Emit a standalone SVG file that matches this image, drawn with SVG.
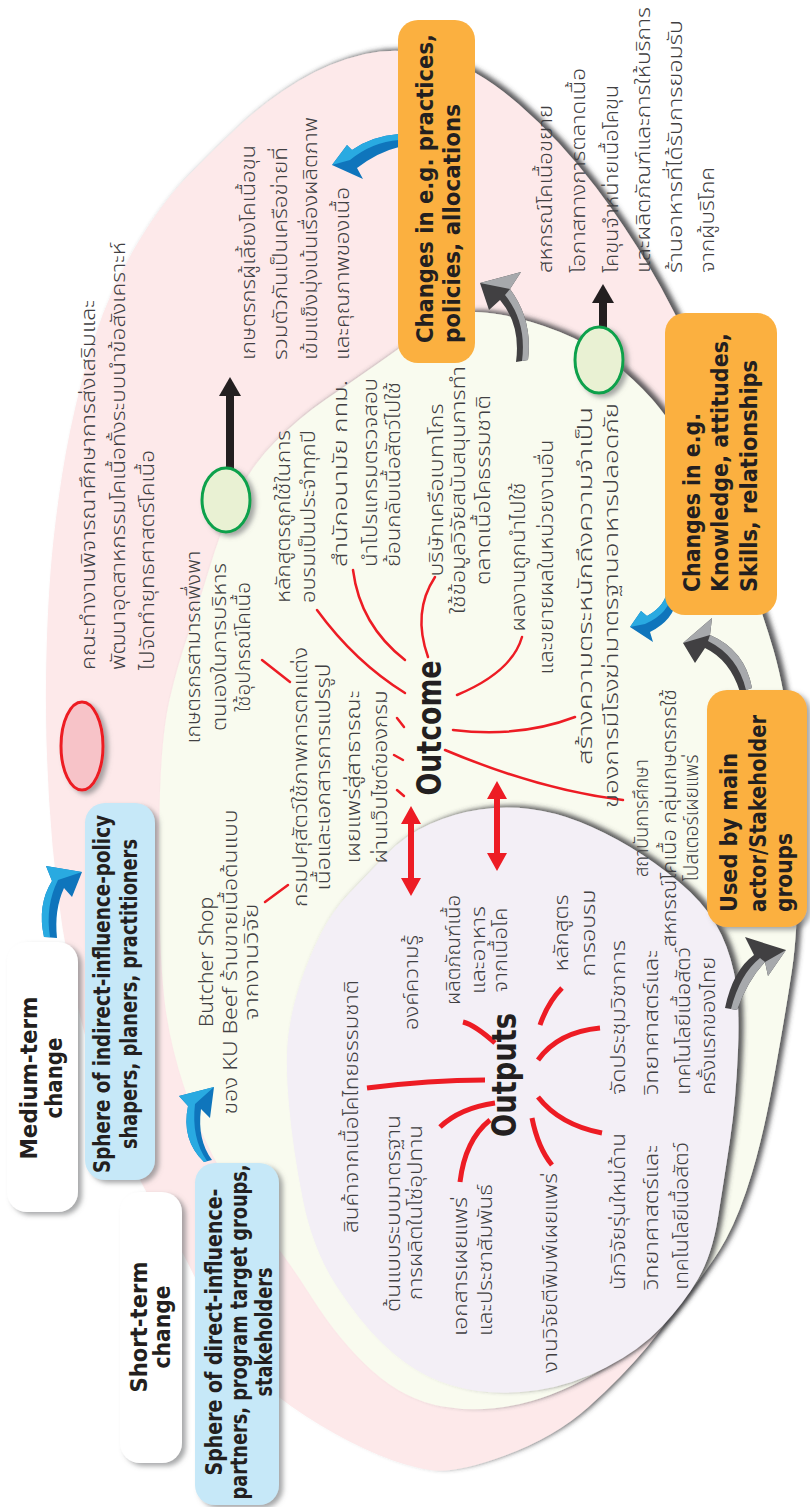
<svg xmlns="http://www.w3.org/2000/svg" width="810" height="1507" viewBox="0 0 810 1507">
<defs>
<filter id="sh" x="-10%" y="-10%" width="125%" height="120%"><feDropShadow dx="5" dy="-2" stdDeviation="2.5" flood-color="#414042" flood-opacity="0.85"/></filter>
<filter id="bs" x="-20%" y="-10%" width="150%" height="130%"><feDropShadow dx="4" dy="3" stdDeviation="2.5" flood-color="#6d6e71" flood-opacity="0.6"/></filter>
</defs>
<style>
.th{font-family:'Noto Sans Thai','Noto Sans','DejaVu Sans',sans-serif;font-size:20px;fill:#414042;font-weight:300}
.en{font-family:'DejaVu Sans Condensed','DejaVu Sans',sans-serif;font-weight:bold;font-size:23px;fill:#231f20}
.big{font-family:'DejaVu Sans Condensed','DejaVu Sans',sans-serif;font-weight:bold;font-size:34px;fill:#231f20}
.rl{fill:none;stroke:#ed1c24;stroke-width:2.5;stroke-linecap:round}
.rb{fill:none;stroke:#ed1c24;stroke-width:5;stroke-linecap:butt}
.ob{fill:#fbb040}
.wb{fill:#ffffff}
.bb{fill:#c6e8f8}
.ge{fill:#e9f1d3;stroke:#0aa14b;stroke-width:3}
</style>

<g id="spheres">
<path id="pink" filter="url(#sh)" fill="#fde9ea" d="M 365,54 Q 400,46 438.5,57 Q 477,68 518.5,104 Q 560,140 596,187.5 Q 632,235 661,287.5 Q 690,340 715,405 Q 740,470 747.5,545 Q 755,620 761.5,700 Q 768,780 768,865 Q 768,950 760,1030 Q 752,1110 732,1177.5 Q 712,1245 692,1281 Q 672,1317 647,1347 Q 622,1377 588.5,1407 Q 555,1437 505,1455.5 Q 455,1474 430,1470 Q 405,1466 377.5,1454.5 Q 350,1443 320,1425 Q 290,1407 261.5,1383.5 Q 233,1360 208,1305 Q 183,1250 163,1220 Q 143,1190 119,1135 Q 95,1080 77.5,1005 Q 60,930 52.5,845 Q 45,760 46,680 Q 47,600 53.5,540 Q 60,480 70,431.5 Q 80,383 95,336.5 Q 110,290 135,247.5 Q 160,205 186.5,177.5 Q 213,150 240,125 Q 267,100 298.5,81 Q 330,62 365,54 Z"/>
<path id="cream" filter="url(#sh)" fill="#f9fbef" d="M 452.5,315.5 Q 470,309 500,314.5 Q 530,320 560,332 Q 590,344 612.5,362 Q 635,380 651.5,398.5 Q 668,417 694,458.5 Q 720,500 741,555 Q 762,610 773.5,650 Q 785,690 791,745 Q 797,800 797.5,865 Q 798,930 792,970 Q 786,1010 775,1071.5 Q 764,1133 752,1173 Q 740,1213 726,1239 Q 712,1265 681,1302.5 Q 650,1340 605,1367.5 Q 560,1395 520,1404 Q 480,1413 442.5,1406.5 Q 405,1400 372.5,1371 Q 340,1342 311.5,1297 Q 283,1252 256.5,1221 Q 230,1190 212.5,1155 Q 195,1120 183.5,1085 Q 172,1050 166.5,1015 Q 161,980 159.5,915 Q 158,850 160,791.5 Q 162,733 169.5,700 Q 177,667 188.5,633.5 Q 200,600 210,566.5 Q 220,533 235,500 Q 250,467 275,442 Q 300,417 325,400 Q 350,383 375,365.5 Q 400,348 417.5,335 Q 435,322 452.5,315.5 Z"/>
<path id="lavender" filter="url(#sh)" fill="#f3eff6" d="M 386,855 Q 405,835 430,824 Q 455,813 480,809.5 Q 505,806 530,809 Q 555,812 580,822 Q 605,832 630,847 Q 655,862 679,882 Q 703,902 715.5,923.5 Q 728,945 734,972.5 Q 740,1000 738,1050 Q 736,1100 730,1140 Q 724,1180 718,1217.5 Q 712,1255 698,1279 Q 684,1303 662,1326.5 Q 640,1350 606,1367.5 Q 572,1385 538.5,1390 Q 505,1395 477.5,1391 Q 450,1387 427.5,1376 Q 405,1365 382.5,1343.5 Q 360,1322 336.5,1286 Q 313,1250 303,1200 Q 293,1150 289,1105 Q 285,1060 288.5,1034 Q 292,1008 300.5,982.5 Q 309,957 321,933.5 Q 333,910 350,892.5 Q 367,875 386,855 Z"/>
</g>

<g id="connectors">
<path class="rl" d="M317,610 Q355,662 405,693"/>
<path class="rl" d="M353,570 Q360,625 405,660"/>
<path class="rl" d="M435,577 Q412,612 428,657"/>
<path class="rl" d="M522,637 Q512,672 457,695"/>
<path class="rl" d="M575,717 Q520,738 453,730"/>
<path class="rl" d="M623,800 Q540,790 445,750"/>
<path class="rl" d="M262,660 L290,682"/>
<path class="rl" d="M265,902 L288,885"/>
<path class="rl" d="M397,718 L404,727"/>
<path class="rl" d="M394,755 L403,760"/>
<path class="rl" d="M397,790 L404,796"/>
<path class="rb" d="M367,1088 Q430,1080 485,1080"/>
<path class="rb" d="M495,1103 Q460,1108 440,1127"/>
<path class="rb" d="M490,1120 Q465,1140 460,1182"/>
<path class="rb" d="M532,1118 Q538,1148 552,1165"/>
<path class="rb" d="M538,1097 Q560,1125 602,1133"/>
<path class="rb" d="M538,1060 Q558,1032 600,1028"/>
<path class="rb" d="M540,1025 Q548,1002 562,988"/>
<path class="rb" d="M495,1043 Q475,1025 463,1022"/>
<g fill="#ed1c24">
<rect x="408" y="820" width="6" height="62"/>
<path d="M401,824 L411,806 L421,824 Z M401,878 L411,896 L421,878 Z"/>
<rect x="494" y="795" width="6" height="62"/>
<path d="M487,799 L497,781 L507,799 Z M487,853 L497,871 L507,853 Z"/>
</g>
<g fill="#231f20">
<rect x="226" y="392" width="8" height="78"/>
<path d="M219,396 L230,377 L241,396 Z"/>
<rect x="599" y="299" width="8" height="30"/>
<path d="M592,303 L603,284 L614,303 Z"/>
</g>
<g id="blue-arrows">
<path fill="#0f75bc" d="M399,134 Q372,136 352,150 L347,145 L332,165 L363,179 L357,168 Q378,152 399,147 Z"/>
<path fill="#29aae1" d="M399,134 Q372,136 352,150 L347,145 L332,165 L350,160 Q372,142 399,140 Z"/>
<path fill="#0f75bc" d="M668,587 Q666,606 647,616 L641,611 L630,627 L653,642 L650,632 Q674,620 677,598 Z"/>
<path fill="#29aae1" d="M668,587 Q666,606 647,616 L641,611 L630,627 L645,624 Q670,613 672,592 Z"/>
<path fill="#0f75bc" d="M204,1162 Q181,1140 188,1106 L179,1096 L214,1087 L210,1118 L201,1109 Q197,1140 212,1160 Z"/>
<path fill="#29aae1" d="M204,1162 Q181,1140 188,1106 L179,1096 L214,1087 L195,1104 Q191,1138 207,1161 Z"/>
<path fill="#0f75bc" d="M44,937 Q37,905 52,881 L46,866 L82,872 L72,897 L64,888 Q54,910 57,938 Z"/>
<path fill="#29aae1" d="M44,937 Q37,905 52,881 L46,866 L82,872 L58,880 Q45,906 50,937 Z"/>
</g>
<g id="grey-arrows">
<path fill="#414042" d="M516,362 Q521,325 500,300 L489,310 L480,283 L521,272 L510,289 Q533,320 528,360 Z"/>
<path fill="#a7a9ac" d="M522,361 Q527,322 505,295 L510,289 Q533,320 528,360 Z M480,283 L521,272 L510,289 Z"/>
<path fill="#414042" d="M740,692 Q730,660 705,648 L695,663 L683,643 L712,618 L710,635 Q745,650 752,688 Z"/>
<path fill="#a7a9ac" d="M746,690 Q738,656 708,641 L710,635 Q745,650 752,688 Z M683,643 L712,618 L710,635 Z"/>
<path fill="#414042" d="M725,1008 Q733,970 754,955 L745,937 L786,950 L768,976 L765,962 Q748,980 737,1010 Z"/>
<path fill="#a7a9ac" d="M731,1009 Q740,974 760,958 L765,962 Q748,980 737,1010 Z M786,950 L768,976 L765,962 Z"/>
</g>
</g>

<g id="markers">
<ellipse cx="82" cy="746" rx="21" ry="44" fill="#f7c3c8" stroke="#ed1c24" stroke-width="3" filter="url(#bs)"/>
<ellipse class="ge" cx="226" cy="500" rx="24" ry="32" filter="url(#bs)"/>
<ellipse class="ge" cx="599" cy="360" rx="24" ry="33" filter="url(#bs)"/>
</g>

<g id="node-practices">
<rect class="ob" x="398" y="20" width="77" height="343" rx="20"/>
<g transform="translate(0,343) rotate(-90)"><text class="en" x="0" y="433" textLength="309" lengthAdjust="spacingAndGlyphs">Changes in e.g. practices,</text><text class="en" x="0" y="460" textLength="239" lengthAdjust="spacingAndGlyphs">policies, allocations</text></g>
</g>
<g id="node-knowledge">
<rect class="ob" x="665" y="313" width="112" height="302" rx="20"/>
<g transform="translate(0,592) rotate(-90)"><text class="en" x="0" y="700" textLength="179" lengthAdjust="spacingAndGlyphs">Changes in e.g.</text><text class="en" x="0" y="728" textLength="259" lengthAdjust="spacingAndGlyphs">Knowledge, attitudes,</text><text class="en" x="0" y="757" textLength="232" lengthAdjust="spacingAndGlyphs">Skills, relationships</text></g>
</g>
<g id="node-used">
<rect class="ob" x="707" y="690" width="100" height="237" rx="20" filter="url(#bs)"/>
<g transform="translate(0,912) rotate(-90)"><text class="en" x="0" y="737" textLength="159" lengthAdjust="spacingAndGlyphs">Used by main</text><text class="en" x="0" y="766" textLength="197" lengthAdjust="spacingAndGlyphs">actor/Stakeholder</text><text class="en" x="0" y="792" textLength="79" lengthAdjust="spacingAndGlyphs">groups</text></g>
</g>
<g id="node-short">
<rect class="wb" x="120" y="1192" width="62" height="271" rx="20" filter="url(#bs)"/>
<g transform="translate(0,1327) rotate(-90)" text-anchor="middle"><text class="en" x="0" y="147" textLength="131" lengthAdjust="spacingAndGlyphs">Short-term</text><text class="en" x="0" y="170" textLength="83" lengthAdjust="spacingAndGlyphs">change</text></g>
</g>
<g id="node-direct">
<rect class="bb" x="195" y="1163" width="84" height="342" rx="20" filter="url(#bs)"/>
<g transform="translate(0,1332) rotate(-90)" text-anchor="middle"><text class="en" x="0" y="222" textLength="287" lengthAdjust="spacingAndGlyphs">Sphere of direct-influence-</text><text class="en" x="0" y="247" textLength="335" lengthAdjust="spacingAndGlyphs">partners, program target groups,</text><text class="en" x="0" y="272" textLength="129" lengthAdjust="spacingAndGlyphs">stakeholders</text></g>
</g>
<g id="node-medium">
<rect class="wb" x="7" y="942" width="71" height="270" rx="20" filter="url(#bs)"/>
<g transform="translate(0,1078) rotate(-90)" text-anchor="middle"><text class="en" x="0" y="37" textLength="163" lengthAdjust="spacingAndGlyphs">Medium-term</text><text class="en" x="0" y="62" textLength="81" lengthAdjust="spacingAndGlyphs">change</text></g>
</g>
<g id="node-indirect">
<rect class="bb" x="85" y="803" width="70" height="377" rx="20" filter="url(#bs)"/>
<g transform="translate(0,994) rotate(-90)" text-anchor="middle"><text class="en" x="0" y="110" textLength="358" lengthAdjust="spacingAndGlyphs">Sphere of indirect-influence-policy</text><text class="en" x="0" y="137" textLength="310" lengthAdjust="spacingAndGlyphs">shapers, planers, practitioners</text></g>
</g>

<g id="node-outcome"><text class="big" transform="translate(0,728) rotate(-90)" x="0" y="441" text-anchor="middle" textLength="135" lengthAdjust="spacingAndGlyphs">Outcome</text></g>
<g id="node-outputs"><text class="big" transform="translate(0,1075) rotate(-90)" x="0" y="516" text-anchor="middle" textLength="124" lengthAdjust="spacingAndGlyphs">Outputs</text></g>

<g id="text-committee" transform="translate(0,670) rotate(-90)"><text class="th" x="0" y="95" textLength="370" lengthAdjust="spacingAndGlyphs">คณะทำงานพิจารณาศึกษาการส่งเสริมและ</text><text class="th" x="0" y="125" textLength="428" lengthAdjust="spacingAndGlyphs">พัฒนาอุตสาหกรรมโคเนื้อทั้งระบบนำข้อสังเคราะห์</text><text class="th" x="0" y="154" textLength="220" lengthAdjust="spacingAndGlyphs">ไปจัดทำยุทธศาสตร์โคเนื้อ</text></g>
<g id="text-farmers" transform="translate(0,360) rotate(-90)"><text class="th" x="0" y="255" textLength="215" lengthAdjust="spacingAndGlyphs">เกษตรกรผู้เลี้ยงโคเนื้อขุน</text><text class="th" x="0" y="287" textLength="213" lengthAdjust="spacingAndGlyphs">รวมตัวกันเป็นเครือข่ายที่</text><text class="th" x="0" y="317" textLength="243" lengthAdjust="spacingAndGlyphs">เข้มแข็งมุ่งเน้นเรื่องผลิตภาพ</text><text class="th" x="0" y="349" textLength="173" lengthAdjust="spacingAndGlyphs">และคุณภาพของเนื้อ</text></g>
<g id="text-coop" transform="translate(0,273) rotate(-90)"><text class="th" x="0" y="552" textLength="168" lengthAdjust="spacingAndGlyphs">สหกรณ์โคเนื้อขยาย</text><text class="th" x="0" y="585" textLength="205" lengthAdjust="spacingAndGlyphs">โอกาสทางการตลาดเนื้อ</text><text class="th" x="0" y="618" textLength="188" lengthAdjust="spacingAndGlyphs">โคขุนจำหน่ายเนื้อโคขุน</text><text class="th" x="0" y="650" textLength="266" lengthAdjust="spacingAndGlyphs">และผลิตภัณฑ์และการให้บริการ</text><text class="th" x="0" y="682" textLength="253" lengthAdjust="spacingAndGlyphs">ร้านอาหารที่ได้รับการยอมรับ</text><text class="th" x="0" y="714" textLength="106" lengthAdjust="spacingAndGlyphs">จากผู้บริโภค</text></g>

<g id="text-selfreliant" transform="translate(0,647) rotate(-90)" text-anchor="middle"><text class="th" x="0" y="200" textLength="193" lengthAdjust="spacingAndGlyphs">เกษตรกรสามารถพึ่งพา</text><text class="th" x="0" y="226" textLength="168" lengthAdjust="spacingAndGlyphs">ตนเองในการบริหาร</text><text class="th" x="0" y="250" textLength="130" lengthAdjust="spacingAndGlyphs">ใช้อุปกรณ์โคเนื้อ</text></g>
<g id="text-course" transform="translate(0,603) rotate(-90)"><text class="th" x="0" y="290" textLength="173" lengthAdjust="spacingAndGlyphs">หลักสูตรถูกใช้ในการ</text><text class="th" x="0" y="315" textLength="173" lengthAdjust="spacingAndGlyphs">อบรมเป็นประจำทุกปี</text></g>
<g id="text-bma" transform="translate(0,567) rotate(-90)"><text class="th" x="0" y="347" textLength="187" lengthAdjust="spacingAndGlyphs">สำนักอนามัย กทม.</text><text class="th" x="0" y="377" textLength="189" lengthAdjust="spacingAndGlyphs">นำโปรแกรมตรวจสอบ</text><text class="th" x="0" y="400" textLength="185" lengthAdjust="spacingAndGlyphs">ย้อนกลับเนื้อสัตว์ไปใช้</text></g>
<g id="text-betagro" transform="translate(0,490) rotate(-90)" text-anchor="middle"><text class="th" x="0" y="443" textLength="173" lengthAdjust="spacingAndGlyphs">บริษัทเครือเบทาโกร</text><text class="th" x="0" y="465" textLength="248" lengthAdjust="spacingAndGlyphs">ใช้ข้อมูลวิจัยสนับสนุนการทำ</text><text class="th" x="0" y="490" textLength="190" lengthAdjust="spacingAndGlyphs">ตลาดเนื้อโคธรรมชาติ</text></g>
<g id="text-adopt" transform="translate(0,557) rotate(-90)" text-anchor="middle"><text class="th" x="0" y="525" textLength="149" lengthAdjust="spacingAndGlyphs">ผลงานถูกนำไปใช้</text><text class="th" x="0" y="553" textLength="235" lengthAdjust="spacingAndGlyphs">และขยายผลในหน่วยงานอื่น</text></g>
<g id="text-aware" transform="translate(0,765) rotate(-90)"><text class="th" x="0" y="592" textLength="358" lengthAdjust="spacingAndGlyphs">สร้างความตระหนักถึงความจำเป็น</text><text class="th" x="-43" y="618" textLength="405" lengthAdjust="spacingAndGlyphs">ของการมีโรงฆ่ามาตรฐานอาหารปลอดภัย</text></g>
<g id="text-institute" transform="translate(0,818) rotate(-90)" text-anchor="middle"><text class="th" x="0" y="648" textLength="118" lengthAdjust="spacingAndGlyphs">สถาบันการศึกษา</text><text class="th" x="0" y="676" textLength="258" lengthAdjust="spacingAndGlyphs">สหกรณ์โคเนื้อ กลุ่มเกษตรกรใช้</text><text class="th" x="0" y="698" textLength="127" lengthAdjust="spacingAndGlyphs">โปสเตอร์เผยแพร่</text></g>
<g id="text-butcher" transform="translate(0,962) rotate(-90)" text-anchor="middle"><text class="th" x="0" y="213" textLength="130" lengthAdjust="spacingAndGlyphs">Butcher Shop</text><text class="th" x="0" y="237" textLength="305" lengthAdjust="spacingAndGlyphs">ของ KU Beef ร้านขายเนื้อต้นแบบ</text><text class="th" x="0" y="258" textLength="117" lengthAdjust="spacingAndGlyphs">จากงานวิจัย</text></g>
<g id="text-dld" transform="translate(0,777) rotate(-90)" text-anchor="middle"><text class="th" x="0" y="307" textLength="260" lengthAdjust="spacingAndGlyphs">กรมปศุสัตว์ใช้ภาพการตกแต่ง</text><text class="th" x="0" y="330" textLength="227" lengthAdjust="spacingAndGlyphs">เนื้อและเอกสารการแปรรูป</text><text class="th" x="0" y="360" textLength="173" lengthAdjust="spacingAndGlyphs">เผยแพร่สู่สาธารณะ</text><text class="th" x="0" y="387" textLength="173" lengthAdjust="spacingAndGlyphs">ผ่านเว็บไซต์ของกรม</text></g>

<g id="text-product" transform="translate(0,1233) rotate(-90)"><text class="th" x="0" y="358" textLength="253" lengthAdjust="spacingAndGlyphs">สินค้าจากเนื้อโคไทยธรรมชาติ</text></g>
<g id="text-prototype" transform="translate(0,1312) rotate(-90)"><text class="th" x="0" y="400" textLength="197" lengthAdjust="spacingAndGlyphs">ต้นแบบระบบมาตรฐาน</text><text class="th" x="12" y="422" textLength="175" lengthAdjust="spacingAndGlyphs">การผลิตในโซ่อุปทาน</text></g>
<g id="text-docs" transform="translate(0,1336) rotate(-90)"><text class="th" x="0" y="467" textLength="139" lengthAdjust="spacingAndGlyphs">เอกสารเผยแพร่</text><text class="th" x="0" y="492" textLength="152" lengthAdjust="spacingAndGlyphs">และประชาสัมพันธ์</text></g>
<g id="text-papers" transform="translate(0,1373) rotate(-90)"><text class="th" x="0" y="557" textLength="200" lengthAdjust="spacingAndGlyphs">งานวิจัยตีพิมพ์เผยแพร่</text></g>
<g id="text-researchers" transform="translate(0,1290) rotate(-90)"><text class="th" x="0" y="625" textLength="157" lengthAdjust="spacingAndGlyphs">นักวิจัยรุ่นใหม่ด้าน</text><text class="th" x="0" y="658" textLength="145" lengthAdjust="spacingAndGlyphs">วิทยาศาสตร์และ</text><text class="th" x="0" y="688" textLength="148" lengthAdjust="spacingAndGlyphs">เทคโนโลยีเนื้อสัตว์</text></g>
<g id="text-conference" transform="translate(0,1095) rotate(-90)"><text class="th" x="0" y="625" textLength="155" lengthAdjust="spacingAndGlyphs">จัดประชุมวิชาการ</text><text class="th" x="0" y="658" textLength="145" lengthAdjust="spacingAndGlyphs">วิทยาศาสตร์และ</text><text class="th" x="0" y="690" textLength="148" lengthAdjust="spacingAndGlyphs">เทคโนโลยีเนื้อสัตว์</text><text class="th" x="0" y="715" textLength="138" lengthAdjust="spacingAndGlyphs">ครั้งแรกของไทย</text></g>
<g id="text-training" transform="translate(0,933) rotate(-90)" text-anchor="middle"><text class="th" x="0" y="568" textLength="77" lengthAdjust="spacingAndGlyphs">หลักสูตร</text><text class="th" x="0" y="595" textLength="87" lengthAdjust="spacingAndGlyphs">การอบรม</text></g>
<g id="text-foods" transform="translate(0,950) rotate(-90)" text-anchor="middle"><text class="th" x="0" y="460" textLength="110" lengthAdjust="spacingAndGlyphs">ผลิตภัณฑ์เนื้อ</text><text class="th" x="0" y="485" textLength="88" lengthAdjust="spacingAndGlyphs">และอาหาร</text><text class="th" x="0" y="507" textLength="85" lengthAdjust="spacingAndGlyphs">จากเนื้อโค</text></g>
<g id="text-knowledge" transform="translate(0,1030) rotate(-90)"><text class="th" x="0" y="418" textLength="95" lengthAdjust="spacingAndGlyphs">องค์ความรู้</text></g>
</svg>
